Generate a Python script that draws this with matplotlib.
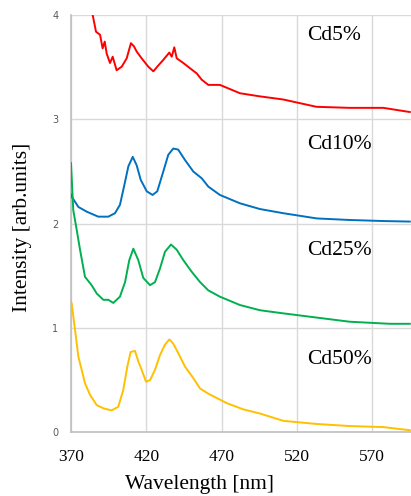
import matplotlib.pyplot as plt
import numpy as np

# wavelength [nm] / intensity [arb.units]
wl_cd5 = [384.4, 386.6, 389.3, 391.0, 392.4, 393.7, 395.9, 397.7, 400.3, 403.7, 407.0, 409.8, 411.8,
          413.6, 416.9, 421.3, 424.7, 427.3, 431.3, 435.3, 436.9, 438.6, 440.2, 444.6, 449.0,
          453.5, 456.8, 461.2, 468.9, 482.2, 495.5, 511.0, 533.0, 555.0, 577.4, 595.0]
i_cd5 = [4.00, 3.84, 3.81, 3.68, 3.745, 3.63, 3.54, 3.60, 3.47, 3.505, 3.585, 3.73, 3.70,
         3.65, 3.585, 3.505, 3.46, 3.505, 3.57, 3.64, 3.60, 3.69, 3.585, 3.54, 3.49,
         3.44, 3.38, 3.33, 3.33, 3.25, 3.22, 3.19, 3.12, 3.11, 3.11, 3.07]

wl_cd10 = [370.0, 370.4, 374.9, 380.4, 388.1, 394.8, 399.2, 402.5, 405.2, 408.1, 411.0, 413.6, 416.3,
           420.3, 424.2, 427.3, 431.3, 434.6, 437.9, 441.2, 445.7, 451.2, 456.8, 461.2, 468.9,
           482.2, 495.5, 511.0, 533.2, 555.3, 577.4, 595.0]
i_cd10 = [2.28, 2.26, 2.16, 2.115, 2.067, 2.067, 2.10, 2.18, 2.355, 2.55, 2.64, 2.56, 2.42,
          2.31, 2.275, 2.31, 2.50, 2.66, 2.72, 2.71, 2.61, 2.50, 2.435, 2.355, 2.275,
          2.195, 2.14, 2.10, 2.05, 2.035, 2.025, 2.02]

wl_cd25 = [370.0, 371.5, 373.8, 376.0, 379.3, 383.7, 387.1, 391.5, 394.8, 398.1, 402.5, 405.9, 408.7,
           411.4, 414.7, 418.0, 422.5, 425.8, 429.1, 432.4, 436.4, 440.2, 444.6, 450.1, 455.7,
           461.2, 468.9, 482.2, 495.5, 511.0, 533.0, 555.0, 581.8, 595.0]
i_cd25 = [2.58, 2.13, 1.94, 1.75, 1.49, 1.41, 1.33, 1.27, 1.27, 1.24, 1.30, 1.44, 1.65,
          1.76, 1.65, 1.48, 1.41, 1.44, 1.57, 1.73, 1.80, 1.75, 1.65, 1.54, 1.44,
          1.36, 1.30, 1.22, 1.17, 1.14, 1.10, 1.06, 1.04, 1.04]

wl_cd50 = [370.0, 370.4, 372.7, 374.9, 379.3, 382.6, 387.1, 391.5, 397.0, 401.4, 404.7, 407.4, 409.6,
           412.5, 414.7, 416.9, 419.8, 422.5, 425.8, 429.1, 432.4, 435.3, 437.9, 441.2, 445.7,
           451.2, 455.7, 461.2, 473.4, 484.4, 495.5, 511.0, 533.0, 555.0, 577.4, 595.0]
i_cd50 = [1.25, 1.24, 0.98, 0.725, 0.47, 0.36, 0.26, 0.23, 0.21, 0.245, 0.405, 0.63, 0.77,
          0.78, 0.68, 0.60, 0.485, 0.50, 0.60, 0.74, 0.84, 0.89, 0.85, 0.76, 0.63,
          0.52, 0.42, 0.37, 0.28, 0.22, 0.18, 0.11, 0.08, 0.06, 0.05, 0.02]

labels = ['Cd5%', 'Cd10%', 'Cd25%', 'Cd50%']
label_y = [3.80, 2.755, 1.74, 0.695]
colors = ['#FF0000', '#0070C0', '#00B050', '#FFC000']

fig = plt.figure(figsize=(4.11, 4.96), dpi=100)
ax = fig.add_axes([71 / 411, 1 - 432.3 / 496, 340 / 411, (432.3 - 15) / 496])

series = [(wl_cd5, i_cd5), (wl_cd10, i_cd10), (wl_cd25, i_cd25), (wl_cd50, i_cd50)]
for (x, y), c in zip(series, colors):
    ax.plot(x, y, color=c, lw=1.4, zorder=3)

for lab, ly in zip(labels, label_y):
    ax.text(526.5, ly, lab, fontsize=15.5, family='Liberation Serif', va='center', ha='left')

ax.set_xlim(370, 595.8)
ax.set_ylim(0, 4)
ax.set_xticks(np.arange(370, 591, 50))
ax.set_yticks([0, 1, 2, 3, 4])
ax.grid(True, color='#D9D9D9', lw=1.0, zorder=0)
ax.set_axisbelow(True)
ax.tick_params(length=0)
ax.tick_params(axis='y', labelsize=7, labelcolor='#595959', pad=9)
ax.tick_params(axis='x', pad=12)
for t in ax.get_xticklabels():
    t.set_fontfamily('Liberation Serif')
    t.set_fontsize(12.5)
for s in ['top', 'right']:
    ax.spines[s].set_visible(False)
for s in ['left', 'bottom']:
    ax.spines[s].set_color('#BFBFBF')
    ax.spines[s].set_linewidth(1.2)

fig.text(199 / 411, 1 - 485 / 496, 'Wavelength [nm]', fontsize=15.5, family='Liberation Serif',
         ha='center', va='center')
fig.text(22 / 411, 1 - 227 / 496, 'Intensity [arb.units]', fontsize=15.5, family='Liberation Serif',
         ha='center', va='center', rotation=90)

fig.savefig('out.png', dpi=100)
